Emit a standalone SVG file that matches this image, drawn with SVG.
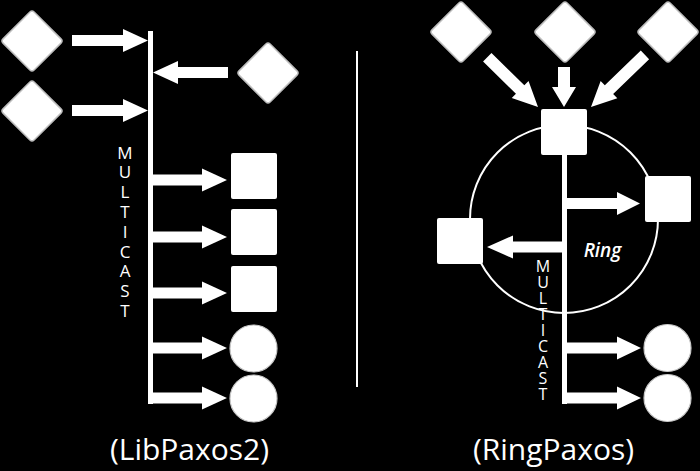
<svg xmlns="http://www.w3.org/2000/svg" width="700" height="471" viewBox="0 0 700 471">
<style>
.bg{fill:#000}
.dia{fill:#fff;stroke:#bdbdbd;stroke-width:1.5}
.sq{fill:#fff}
.ci{fill:#fff;stroke:#c8c8c8;stroke-width:1.2}
.ar{fill:#fff}
.bus{fill:#fff}
.lbl{font-family:"Open Sans","DejaVu Sans",sans-serif;fill:#fff;text-anchor:middle}
.title{font-size:30px}
.vt{font-family:"Open Sans","DejaVu Sans",sans-serif;fill:#fff;writing-mode:vertical-rl;text-orientation:upright}
.vt1{font-size:17px;letter-spacing:-3.2px}
.vt2{font-size:16px;letter-spacing:-6px}
.ring{fill:none;stroke:#fff;stroke-width:2}
</style>
<defs>
<rect id="d" x="-22" y="-22" width="44" height="44" rx="3" transform="rotate(45)"/>
</defs>
<rect class="bg" width="700" height="471"/>
<g id="divider"><rect class="bus" x="356" y="51" width="2" height="336"/></g>
<g id="ringcircle"><circle class="ring" cx="564" cy="219" r="94"/></g>
<g id="connectors">
<rect class="bus" x="148" y="31" width="5" height="373"/>
<rect class="bus" x="562" y="155" width="5" height="249"/>
<polygon class="ar" points="72,35 123,35 123,29 148,40.5 123,52 123,46 72,46"/>
<polygon class="ar" points="72,105 123,105 123,99 148,110.5 123,122 123,116 72,116"/>
<polygon class="ar" points="228,67 178,67 178,61 153,72.5 178,84 178,78 228,78"/>
<polygon class="ar" points="153,174.5 202,174.5 202,168.5 227,180 202,191.5 202,185.5 153,185.5"/>
<polygon class="ar" points="153,231.5 202,231.5 202,225.5 227,237 202,248.5 202,242.5 153,242.5"/>
<polygon class="ar" points="153,287.5 202,287.5 202,281.5 227,293 202,304.5 202,298.5 153,298.5"/>
<polygon class="ar" points="153,342.5 202,342.5 202,336.5 227,348 202,359.5 202,353.5 153,353.5"/>
<polygon class="ar" points="153,392.5 202,392.5 202,386.5 227,398 202,409.5 202,403.5 153,403.5"/>
<polygon class="ar" points="567,198 617,198 617,192 640,203.5 617,215 617,209 567,209"/>
<polygon class="ar" points="562,241.5 513,241.5 513,235.5 487,247 513,258.5 513,252.5 562,252.5"/>
<polygon class="ar" points="567,342.5 617,342.5 617,336.5 641,348 617,359.5 617,353.5 567,353.5"/>
<polygon class="ar" points="567,392.5 617,392.5 617,386.5 641,398 617,409.5 617,403.5 567,403.5"/>
<polygon class="ar" transform="translate(564,107) rotate(90)" points="-40,-6 -20,-6 -20,-12 0,0 -20,12 -20,6 -40,6"/>
<polygon class="ar" transform="translate(538,107) rotate(44.4)" points="-71,-6 -25,-6 -25,-12 0,0 -25,12 -25,6 -71,6"/>
<polygon class="ar" transform="translate(591,107) rotate(136)" points="-75,-6 -25,-6 -25,-12 0,0 -25,12 -25,6 -75,6"/>
</g>
<g id="l-client1"><use href="#d" class="dia" x="32" y="41"/></g>
<g id="l-client2"><use href="#d" class="dia" x="32" y="111"/></g>
<g id="l-client3"><use href="#d" class="dia" x="268" y="73"/></g>
<g id="l-acc1"><rect class="sq" x="231" y="153" width="46" height="46" rx="2"/></g>
<g id="l-acc2"><rect class="sq" x="231" y="209" width="46" height="46" rx="2"/></g>
<g id="l-acc3"><rect class="sq" x="231" y="266" width="46" height="46" rx="2"/></g>
<g id="l-learner1"><circle class="ci" cx="253.5" cy="348.5" r="23.5"/></g>
<g id="l-learner2"><circle class="ci" cx="253.5" cy="398.5" r="23.5"/></g>
<g id="r-client1"><use href="#d" class="dia" x="461" y="32"/></g>
<g id="r-client2"><use href="#d" class="dia" x="565" y="32"/></g>
<g id="r-client3"><use href="#d" class="dia" x="668" y="32"/></g>
<g id="r-coord"><rect class="sq" x="541" y="109" width="46" height="46" rx="2"/></g>
<g id="r-acc1"><rect class="sq" x="645" y="176" width="46" height="46" rx="2"/></g>
<g id="r-acc2"><rect class="sq" x="437" y="218" width="46" height="46" rx="2"/></g>
<g id="r-learner1"><circle class="ci" cx="667.5" cy="348" r="23.5"/></g>
<g id="r-learner2"><circle class="ci" cx="667.5" cy="398" r="23.5"/></g>
<g id="labels">
<text class="vt vt1" x="125" y="140.5">MULTICAST</text>
<text class="vt vt2" x="543" y="255">MULTICAST</text>
<text class="lbl" x="602.5" y="257" style="font-size:19px;font-style:italic;font-weight:600">Ring</text>
<text class="lbl title" x="189.5" y="460">(LibPaxos2)</text>
<text class="lbl title" x="553.5" y="460">(RingPaxos)</text>
</g>
</svg>
